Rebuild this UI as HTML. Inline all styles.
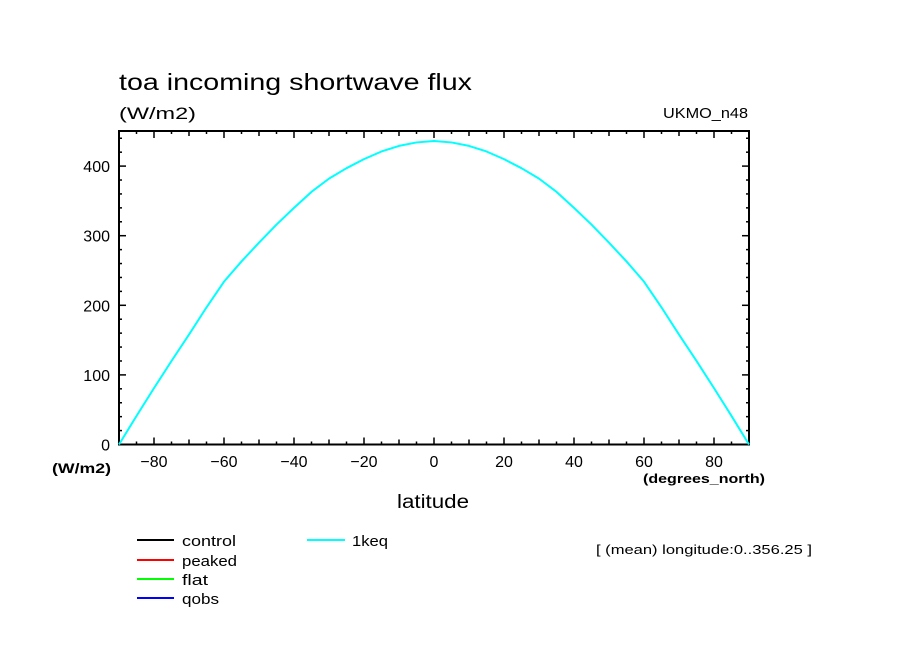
<!DOCTYPE html>
<html><head><meta charset="utf-8"><style>
body{margin:0;background:#fff}
svg text{font-family:"Liberation Sans",sans-serif;fill:#000}
</style></head><body>
<svg id="chart" width="904" height="654" viewBox="0 0 904 654" xmlns="http://www.w3.org/2000/svg">
<rect width="904" height="654" fill="#fff"/>
<text x="119" y="90" font-size="23" textLength="353" lengthAdjust="spacingAndGlyphs">toa incoming shortwave flux</text>
<text x="119" y="119" font-size="17" textLength="77" lengthAdjust="spacingAndGlyphs">(W/m2)</text>
<text x="663" y="118" font-size="15" textLength="85" lengthAdjust="spacingAndGlyphs">UKMO_n48</text>
<g id="axes"></g>
<g id="series"></g>
<text x="52" y="473" font-size="14" font-weight="bold" textLength="59" lengthAdjust="spacingAndGlyphs">(W/m2)</text>
<text x="643" y="483" font-size="13" font-weight="bold" textLength="122" lengthAdjust="spacingAndGlyphs">(degrees_north)</text>
<text x="397" y="508" font-size="19" textLength="72" lengthAdjust="spacingAndGlyphs">latitude</text>
<g>
<line x1="137" y1="540" x2="174" y2="540" stroke="#000" stroke-width="2"/><text x="182" y="546" font-size="15" textLength="54" lengthAdjust="spacingAndGlyphs">control</text>
<line x1="137" y1="560" x2="174" y2="560" stroke="#f00" stroke-width="2"/><text x="182" y="566" font-size="15" textLength="55" lengthAdjust="spacingAndGlyphs">peaked</text>
<line x1="137" y1="579" x2="174" y2="579" stroke="#0f0" stroke-width="2"/><text x="182" y="585" font-size="15" textLength="26" lengthAdjust="spacingAndGlyphs">flat</text>
<line x1="137" y1="598" x2="174" y2="598" stroke="#00f" stroke-width="2"/><text x="182" y="604" font-size="15" textLength="37" lengthAdjust="spacingAndGlyphs">qobs</text>
<line x1="307" y1="540" x2="345" y2="540" stroke="#0ff" stroke-width="2"/><text x="352" y="546" font-size="15" textLength="36" lengthAdjust="spacingAndGlyphs">1keq</text>
</g>
<text x="596" y="554" font-size="13" textLength="216" lengthAdjust="spacingAndGlyphs">[ (mean) longitude:0..356.25 ]</text>
</svg>
<script>
const lats=[-90,-85,-80,-75,-70,-65,-60,-55,-50,-45,-40,-35,-30,-25,-20,-15,-10,-5,0,5,10,15,20,25,30,35,40,45,50,55,60,65,70,75,80,85,90];
const flux1keq=[0,41,81,120,158,197,234,263,290,316,340,363,382,397,410,421,429,434,436,434,429,421,410,397,382,363,340,316,290,263,234,197,158,120,81,41,0];
const xTicks=[-80,-60,-40,-20,0,20,40,60,80];
const yTicks=[0,100,200,300,400];
const L=119,R=749,T=131,B=444.5;
const xs=v=>L+(v+90)/180*(R-L);
const ys=v=>B-v*0.696;
const NS="http://www.w3.org/2000/svg";
const ax=document.getElementById('axes');
function mk(tag,attrs,parent){const e=document.createElementNS(NS,tag);for(const k in attrs)e.setAttribute(k,attrs[k]);parent.appendChild(e);return e;}
const frame=mk('rect',{x:L,y:T,width:R-L,height:B-T,fill:'none',stroke:'#000','stroke-width':2},ax);


for(let v=-90;v<=90;v+=5){const len=v%20===0?7:(v%10===0?5:3);
 mk('line',{x1:xs(v),x2:xs(v),y1:B,y2:B-len,stroke:'#000','stroke-width':1.5},ax);
 mk('line',{x1:xs(v),x2:xs(v),y1:T,y2:T+len,stroke:'#000','stroke-width':1.5},ax);}
for(let v=0;v<=440;v+=20){const len=v%100===0?7:3;
 mk('line',{x1:L,x2:L+len,y1:ys(v),y2:ys(v),stroke:'#000','stroke-width':1.5},ax);
 mk('line',{x1:R,x2:R-len,y1:ys(v),y2:ys(v),stroke:'#000','stroke-width':1.5},ax);}
xTicks.forEach(v=>{const t=mk('text',{x:xs(v),y:467,'font-size':16,'text-anchor':'middle'},ax);t.textContent=(v<0?'\u2212':'')+Math.abs(v);
 
 });
yTicks.forEach(v=>{const t=mk('text',{x:110,y:ys(v)+6,'font-size':16,'text-anchor':'end'},ax);t.textContent=v;
 
 });
const p=mk('polyline',{points:lats.map((la,i)=>xs(la)+','+ys(flux1keq[i])).join(' '),fill:'none',stroke:'#0ff','stroke-width':2,'stroke-linejoin':'round'},document.getElementById('series'));


</script>
</body></html>
